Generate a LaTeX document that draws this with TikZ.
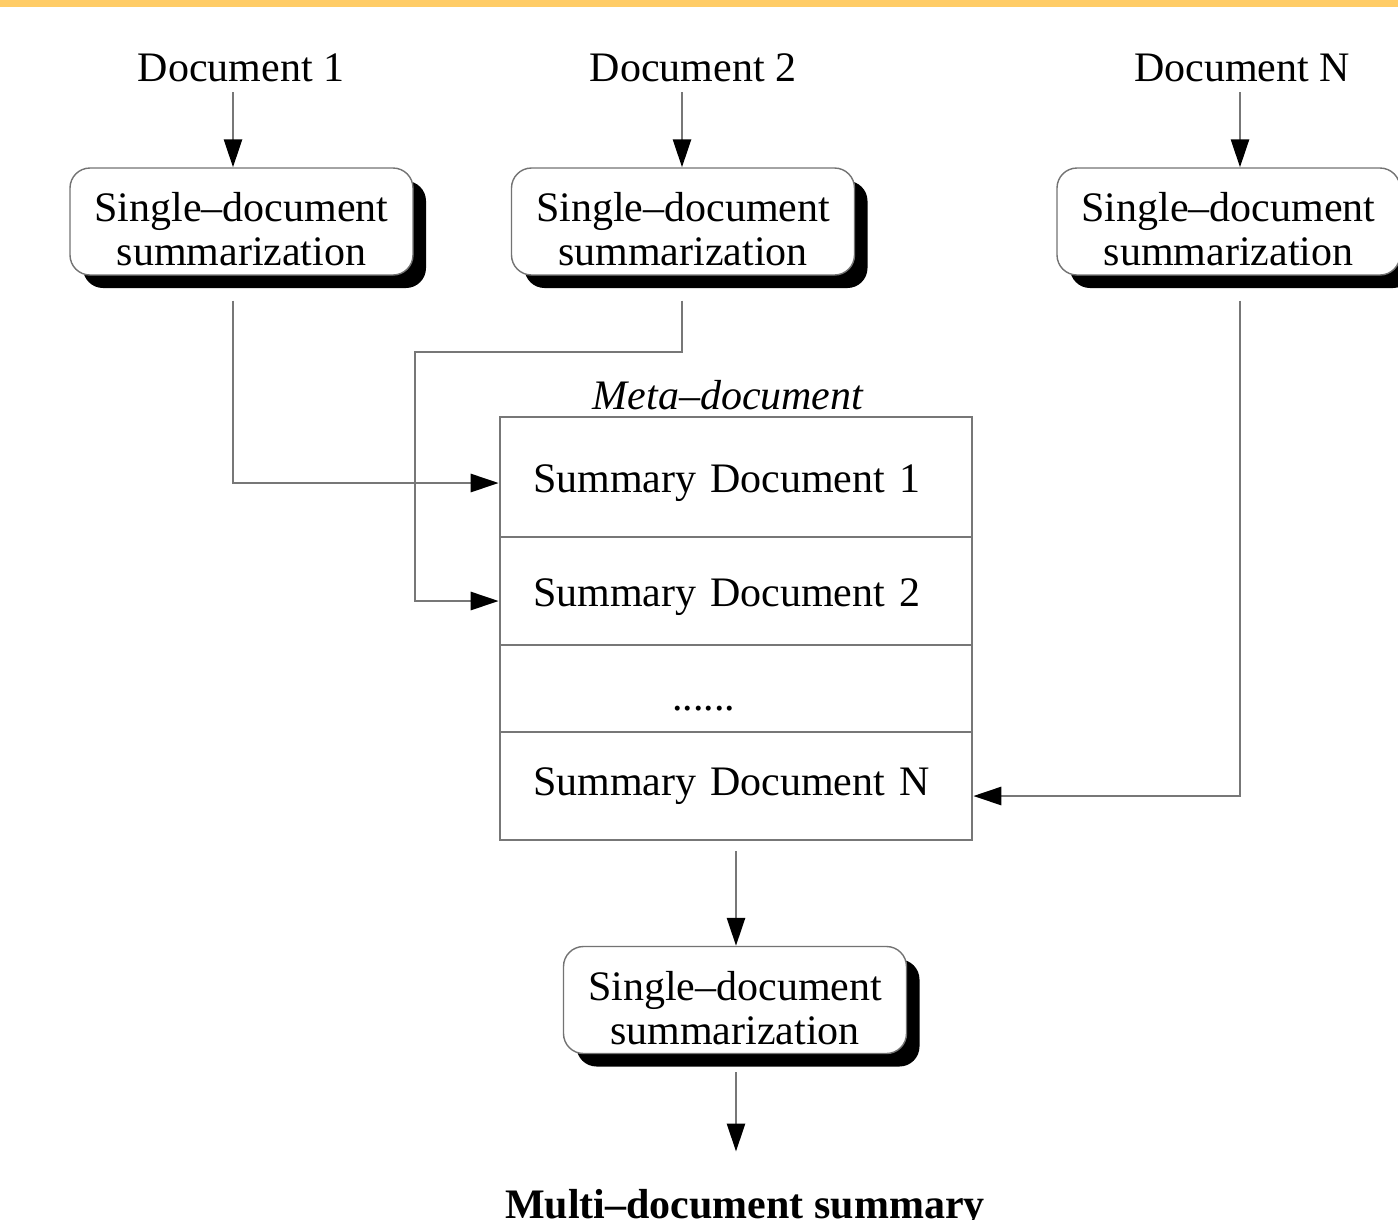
\documentclass[tikz,border=0pt]{standalone}
\usepackage{fontspec}
\setmainfont{Liberation Serif}
\usetikzlibrary{arrows.meta,shadows,calc}
\definecolor{topbar}{RGB}{255,204,102}
\definecolor{linkgray}{RGB}{119,119,119}
\newcommand{\sdsum}{\rule{0pt}{0.9cm}Single--document\\summarization}

\begin{document}
\fontsize{23.9}{25}\selectfont
\begin{tikzpicture}[
    doc/.style={inner sep=0.2cm},
    summ/.style={rectangle, draw=black!55, line width=0.8pt, fill=white, rounded corners=0.4cm, minimum width=6.86cm, minimum height=2.14cm, inner ysep=0.08cm, align=center, drop shadow={shadow xshift=0.26cm, shadow yshift=-0.26cm, fill=black, opacity=1}},
    row/.style={rectangle, draw=linkgray, line width=1.5pt, minimum width=9.44cm, text width=8.12cm, inner xsep=0.66cm, align=left},
    link/.style={draw=linkgray, line width=1.6pt, -{Triangle[length=0.56cm, width=0.36cm, color=black]}}
]
\useasboundingbox (0,0) rectangle (27.96,-24.38);
\fill[topbar] (0,0) rectangle (27.96,-0.13);

% Columns
\coordinate (col1) at (4.66,0);
\coordinate (col2) at (13.64,0);
\coordinate (col3) at (24.8,0);

% Input documents
\node[doc] (doc1) at (4.82,-1.36) {Document 1};
\node[doc] (doc2) at (13.86,-1.36) {Document 2};
\node[doc] (doc3) at (24.84,-1.36) {Document N};

% Single-document summarizers
\node[summ] (box1) at (4.83,-4.43) {\sdsum};
\node[summ] (box2) at (13.66,-4.43) {\sdsum};
\node[summ] (box3) at (24.57,-4.43) {\sdsum};

% Meta-document
\node[font=\itshape] (meta) at (14.56,-7.9) {Meta--document};
\node[row, minimum height=2.4cm] (sum1) at (14.72,-9.54) {\rule{0pt}{0.8cm}Summary Document 1};
\node[row, minimum height=2.16cm] (sum2) at (14.72,-11.82) {\rule{0pt}{0.8cm}Summary Document 2};
\node[row, minimum height=1.74cm] (dots) at (14.72,-13.77) {\hspace*{2.78cm}\rule{0pt}{0.9cm}......};
\node[row, minimum height=2.16cm] (sumN) at (14.72,-15.72) {Summary Document N};

% Final summarizer
\node[summ] (final) at (14.7,-20.0) {\sdsum};
\node[font=\bfseries, anchor=base, inner ysep=0.74cm] (multi) at (14.9,-24.36) {Multi--document summary};

\coordinate (bend2) at (8.3,-7.04);

\draw[link] (doc1.south -| col1) -- (col1 |- box1.north);
\draw[link] (doc2.south -| col2) -- (col2 |- box2.north);
\draw[link] (doc3.south -| col3) -- (col3 |- box3.north);

\draw[link] ([yshift=-0.5cm]box1.south -| col1) |- ([yshift=-0.12cm]sum1.west);
\draw[link] ([yshift=-0.5cm]box2.south -| col2) |- (bend2) |- ([yshift=-0.2cm]sum2.west);
\draw[link] ([yshift=-0.5cm]box3.south -| col3) |- ([yshift=-0.2cm]sumN.east);

\draw[link] ([yshift=-0.2cm]sumN.south) -- (sumN.south |- final.north);
\draw[link] ([yshift=-0.36cm]final.south -| sumN.south) -- (sumN.south |- multi.north);

\end{tikzpicture}
\end{document}
